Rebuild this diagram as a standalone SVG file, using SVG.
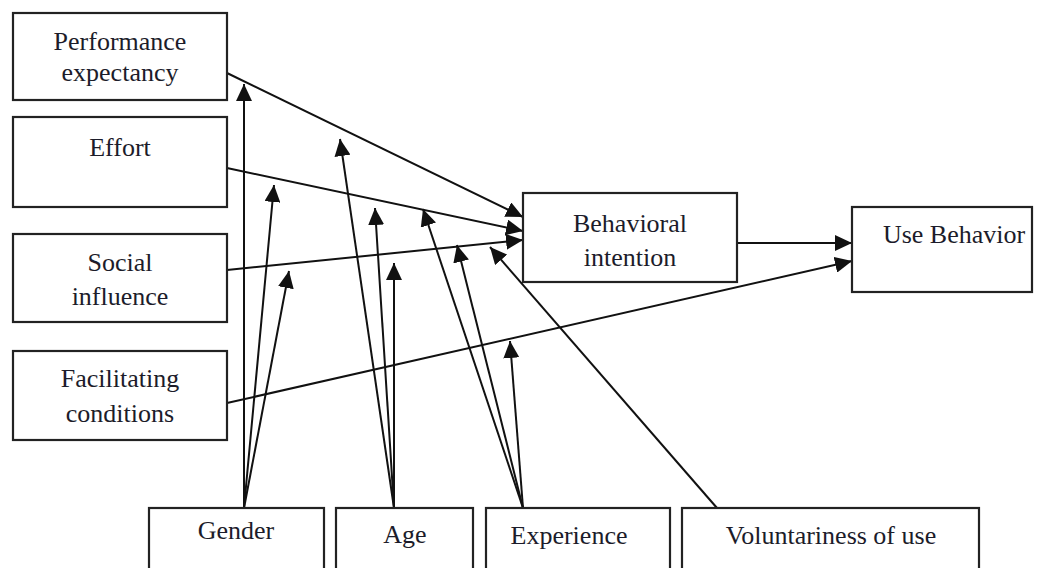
<svg xmlns="http://www.w3.org/2000/svg" width="1045" height="568" viewBox="0 0 1045 568">
<style>
.box{fill:#fff;stroke:#222;stroke-width:2.2}
.t{font-family:"Liberation Serif","Times New Roman",serif;font-size:26px;fill:#1c1c2a;text-anchor:middle}
.c{stroke:#111;stroke-width:2;fill:none;marker-end:url(#ah)}
</style>
<defs>
<marker id="ah" markerUnits="userSpaceOnUse" markerWidth="18" markerHeight="16" refX="17" refY="8" orient="auto">
<path d="M0,0 L17,8 L0,16 z" fill="#111"/>
</marker>
</defs>
<rect width="1045" height="568" fill="#fff"/>
<g id="connectors">
<line class="c" x1="227" y1="73" x2="523" y2="217"/>
<line class="c" x1="227" y1="168" x2="523" y2="231"/>
<line class="c" x1="227" y1="270" x2="523" y2="240"/>
<line class="c" x1="227" y1="403" x2="852" y2="261"/>
<line class="c" x1="737" y1="243" x2="852" y2="243"/>
<line class="c" x1="717" y1="508" x2="490" y2="247"/>
<line class="c" x1="244" y1="508" x2="244" y2="84"/>
<line class="c" x1="244" y1="508" x2="274" y2="185"/>
<line class="c" x1="244" y1="508" x2="289" y2="271"/>
<line class="c" x1="394" y1="508" x2="340" y2="139"/>
<line class="c" x1="394" y1="508" x2="375" y2="208"/>
<line class="c" x1="394" y1="508" x2="394" y2="263"/>
<line class="c" x1="523" y1="508" x2="423" y2="209"/>
<line class="c" x1="523" y1="508" x2="457" y2="245"/>
<line class="c" x1="523" y1="508" x2="510" y2="341"/>
</g>
<g id="performance">
<rect class="box" x="13" y="13" width="214" height="87"/>
<text class="t" x="120" y="50">Performance</text>
<text class="t" x="120" y="81">expectancy</text>
</g>
<g id="effort">
<rect class="box" x="13" y="117" width="214" height="90"/>
<text class="t" x="120" y="156">Effort</text>
</g>
<g id="social">
<rect class="box" x="13" y="234" width="214" height="88"/>
<text class="t" x="120" y="271">Social</text>
<text class="t" x="120" y="305">influence</text>
</g>
<g id="facilitating">
<rect class="box" x="13" y="351" width="214" height="89"/>
<text class="t" x="120" y="387">Facilitating</text>
<text class="t" x="120" y="422">conditions</text>
</g>
<g id="intention">
<rect class="box" x="523" y="193" width="214" height="89"/>
<text class="t" x="630" y="232">Behavioral</text>
<text class="t" x="630" y="266">intention</text>
</g>
<g id="use">
<rect class="box" x="852" y="207" width="180" height="85"/>
<text class="t" x="954" y="243">Use Behavior</text>
</g>
<g id="gender">
<rect class="box" x="149" y="508" width="175" height="80"/>
<text class="t" x="236" y="539">Gender</text>
</g>
<g id="age">
<rect class="box" x="336" y="508" width="137" height="80"/>
<text class="t" x="405" y="543">Age</text>
</g>
<g id="experience">
<rect class="box" x="486" y="508" width="184" height="80"/>
<text class="t" x="569" y="544">Experience</text>
</g>
<g id="voluntariness">
<rect class="box" x="682" y="508" width="297" height="80"/>
<text class="t" x="831" y="544">Voluntariness of use</text>
</g>
</svg>
